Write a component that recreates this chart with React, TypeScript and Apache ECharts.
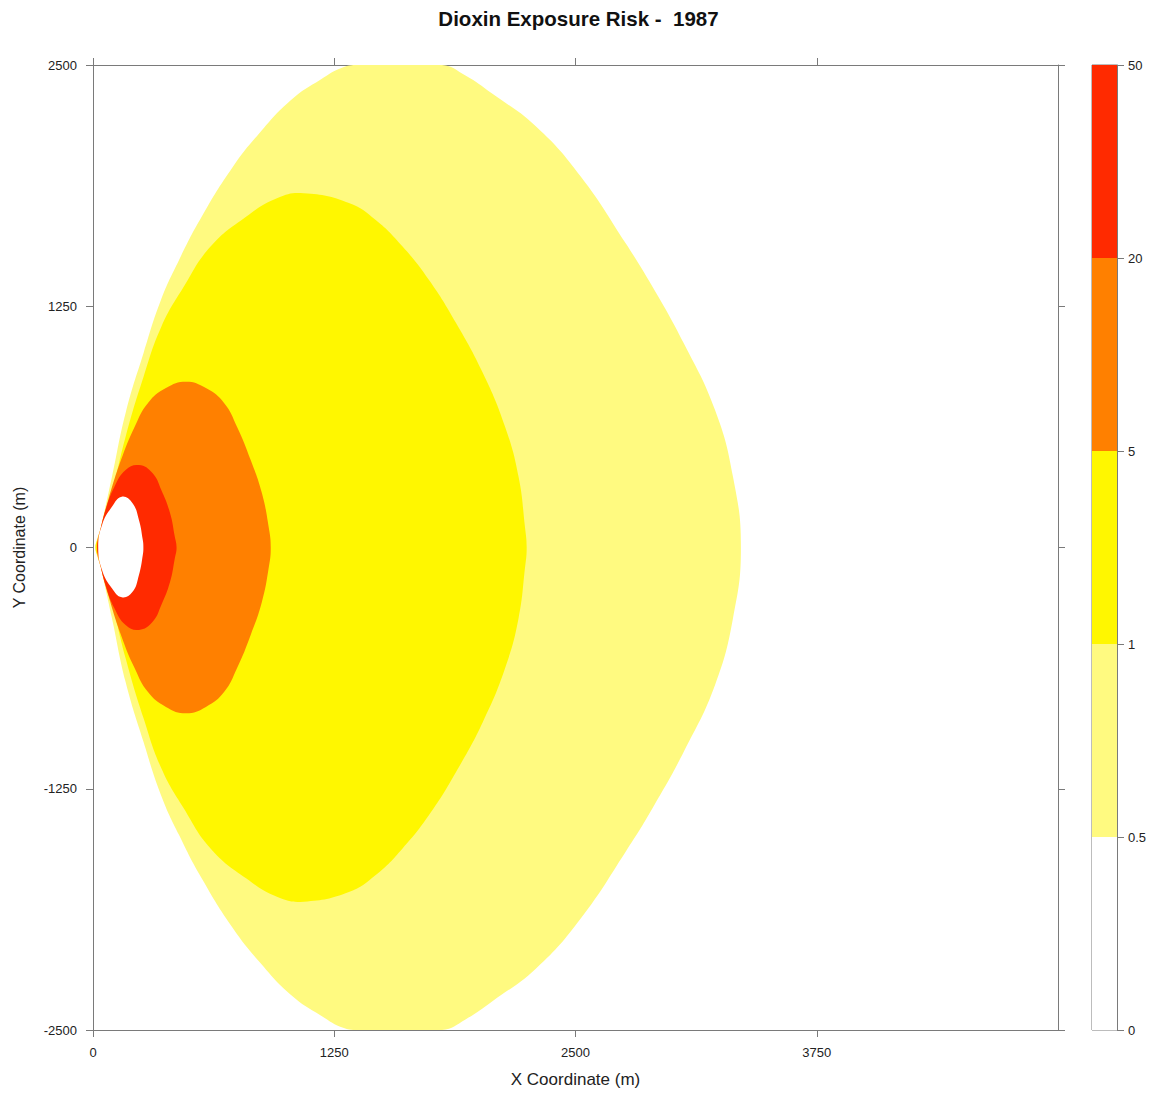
import React, { useEffect, useRef } from "react";
import * as echarts from "echarts";

// Colour-bar levels and band colours
const levels = ["0", "0.5", "1", "5", "20", "50"];
const bandColors = ["#FFFFFF", "#FFFA80", "#FFF700", "#FF8000", "#FF2A00"];
const bandIndex = [0, 1, 2, 3, 4];

// Axis ticks
const xTicks = [0, 1250, 2500, 3750];
const yTicks = [-2500, -1250, 0, 1250, 2500];

// Contour boundaries (x, y in metres)
const contour05 = [
  [15, 0], [41, 106], [98, 365], [169, 697], [262, 1008], [352, 1282], [446, 1490], [563, 1714],
  [725, 1973], [863, 2148], [1026, 2319], [1180, 2425], [1300, 2490], [1394, 2500], [1808, 2500],
  [1930, 2445], [2066, 2353], [2297, 2180], [2528, 1921], [2760, 1576], [2899, 1351], [3061, 1058],
  [3223, 712], [3316, 367], [3357, 0],
  [3316, -367], [3223, -712], [3061, -1058], [2899, -1351], [2760, -1576], [2528, -1921],
  [2297, -2180], [2066, -2353], [1930, -2445], [1808, -2500], [1394, -2500], [1300, -2490],
  [1180, -2425], [1026, -2319], [863, -2148], [725, -1973], [563, -1714], [446, -1490],
  [352, -1282], [262, -1008], [169, -697], [98, -365], [41, -106],
];

const contour1 = [
  [12, 0], [41, 75], [98, 282], [169, 574], [262, 885], [354, 1144], [470, 1351], [609, 1559],
  [793, 1714], [956, 1811], [1093, 1835], [1326, 1785], [1465, 1697], [1604, 1559], [1741, 1386],
  [1881, 1163], [2020, 904], [2135, 626], [2205, 367], [2238, 108], [2247, 0],
  [2238, -108], [2205, -367], [2135, -626], [2020, -904], [1881, -1163], [1741, -1386],
  [1604, -1559], [1465, -1697], [1326, -1785], [1093, -1835], [956, -1811], [793, -1714],
  [609, -1559], [470, -1351], [354, -1144], [262, -885], [169, -574], [98, -282], [41, -75],
];

const contour5 = [
  [20, 0], [41, 106], [80, 250], [145, 453], [216, 626], [285, 749], [378, 826], [482, 859],
  [585, 826], [679, 749], [746, 626], [817, 453], [875, 282], [910, 108], [921, 0],
  [910, -108], [875, -282], [817, -453], [746, -626], [679, -749], [585, -826], [482, -859],
  [378, -826], [285, -749], [216, -626], [145, -453], [80, -250], [41, -106],
];

const contour20 = [
  [22, 0], [31, 54], [65, 194], [111, 315], [169, 402], [238, 427], [308, 386], [354, 298],
  [399, 179], [424, 56], [433, 0],
  [424, -56], [399, -179], [354, -298], [308, -386], [238, -427], [169, -402], [111, -315],
  [65, -194], [31, -54],
];

const contour50 = [
  [27, 0], [48, 120], [98, 211], [149, 263], [204, 231], [238, 142], [258, 39], [261, 0],
  [258, -39], [238, -142], [204, -231], [149, -258], [98, -211], [48, -120],
];

const contours = [
  { name: "0.5", data: contour05, band: 1 },
  { name: "1", data: contour1, band: 2 },
  { name: "5", data: contour5, band: 3 },
  { name: "20", data: contour20, band: 4 },
  { name: "50", data: contour50, band: 0 },
];

const FONT = "'Liberation Sans', Arial, Helvetica, sans-serif";
const AXIS_GRAY = "#7a7a7a";
const TEXT = "#222";

export default function App() {
  const ref = useRef<HTMLDivElement>(null);

  useEffect(() => {
    const chart = echarts.init(ref.current!, null, { renderer: "svg" });

    const tickCommon = { show: true, length: 7, lineStyle: { color: AXIS_GRAY, width: 1 } };
    const lineCommon = { show: true, onZero: false, lineStyle: { color: AXIS_GRAY, width: 1 } };
    const plain = (v: number) => String(v);

    const option: any = {
      animation: false,
      backgroundColor: "#fff",
      textStyle: { fontFamily: FONT },
      title: {
        text: "Dioxin Exposure Risk -  1987",
        left: "center",
        top: 0,
        padding: 0,
        textStyle: { fontFamily: FONT, fontWeight: "bold", fontSize: 20.5, color: "#111" },
      },
      grid: [
        { left: 85, top: 57, width: 965, height: 965, containLabel: false, outerBoundsMode: "none" },
        {
          left: 1084, top: 57, width: 25, height: 965, show: true, borderColor: AXIS_GRAY, borderWidth: 1,
          backgroundColor: "transparent", outerBoundsMode: "none",
        },
      ],
      xAxis: [
        {
          type: "value", gridIndex: 0, position: "bottom", min: 0, max: 5000, interval: 1250,
          axisLine: lineCommon,
          axisTick: { ...tickCommon, customValues: xTicks },
          axisLabel: { customValues: xTicks, margin: 16, fontSize: 13, color: TEXT, fontFamily: FONT, formatter: plain },
          splitLine: { show: false },
          name: "X Coordinate (m)", nameLocation: "middle", nameGap: 41,
          nameTextStyle: { fontSize: 17, color: TEXT, fontFamily: FONT },
        },
        {
          type: "value", gridIndex: 0, position: "top", min: 0, max: 5000, interval: 1250,
          axisLine: lineCommon,
          axisTick: { ...tickCommon, customValues: xTicks },
          axisLabel: { show: false },
          splitLine: { show: false },
        },
        {
          type: "value", gridIndex: 1, min: 0, max: 1, show: false,
        },
      ],
      yAxis: [
        {
          type: "value", gridIndex: 0, position: "left", min: -2500, max: 2500, interval: 1250,
          axisLine: lineCommon,
          axisTick: { ...tickCommon, customValues: yTicks },
          axisLabel: { customValues: yTicks, margin: 16, fontSize: 13, color: TEXT, fontFamily: FONT, formatter: plain },
          splitLine: { show: false },
          name: "Y Coordinate (m)", nameLocation: "middle", nameGap: 66, nameRotate: 90,
          nameTextStyle: { fontSize: 16, color: TEXT, fontFamily: FONT },
        },
        {
          type: "value", gridIndex: 0, position: "right", min: -2500, max: 2500, interval: 1250,
          axisLine: lineCommon,
          axisTick: { ...tickCommon, customValues: yTicks },
          axisLabel: { show: false },
          splitLine: { show: false },
        },
        {
          type: "value", gridIndex: 1, position: "right", min: 0, max: levels.length - 1, interval: 1,
          axisLine: lineCommon,
          axisTick: { ...tickCommon },
          axisLabel: {
            margin: 11, fontSize: 13, color: TEXT, fontFamily: FONT,
            formatter: (v: number) => levels[Math.round(v)],
          },
          splitLine: { show: false },
        },
      ],
      series: [
        ...contours.map((c) => ({
          type: "custom",
          name: c.name,
          xAxisIndex: 0,
          yAxisIndex: 0,
          clip: true,
          silent: true,
          encode: { x: 0, y: 1 },
          data: c.data,
          renderItem: (params: any, api: any) => {
            if (params.dataIndex !== 0) return null;
            const pts = c.data.map((p) => api.coord(p));
            return {
              type: "polygon",
              shape: { points: pts, smooth: 0.45 },
              style: { fill: bandColors[c.band], stroke: null },
            };
          },
        })),
        {
          type: "custom",
          name: "colorbar",
          xAxisIndex: 2,
          yAxisIndex: 2,
          silent: true,
          encode: { x: 0, y: 1 },
          data: bandIndex.map((i) => [0, i]),
          renderItem: (params: any, api: any) => {
            const i = api.value(1);
            const p0 = api.coord([0, i]);
            const p1 = api.coord([1, i + 1]);
            return {
              type: "rect",
              shape: { x: p0[0], y: p1[1], width: p1[0] - p0[0], height: p0[1] - p1[1] },
              style: { fill: bandColors[i], stroke: null },
            };
          },
        },
      ],
    };

    chart.setOption(option);
    return () => chart.dispose();
  }, []);

  return <div ref={ref} style={{ width: 1141, height: 1081 }} />;
}
